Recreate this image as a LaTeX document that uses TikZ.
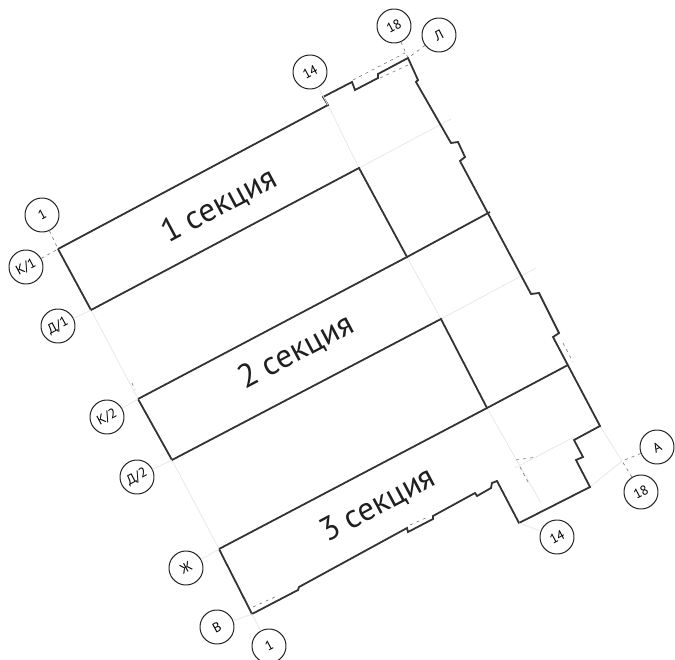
\documentclass[tikz,border=0pt]{standalone}
\usepackage{fontspec}
\setmainfont{PT Sans}
\usetikzlibrary{positioning}
\tikzset{
    % Wall and axis styles
    wall/.style={line width=1.8pt, draw=black!80, line join=miter},
    axisFaint/.style={line width=0.8pt, draw=black!9},
    axisTick/.style={line width=0.6pt, draw=black!55, dash pattern=on 3pt off 4pt},
    % Label styles
    axisMark/.style={circle, draw=black!85, line width=1pt, minimum size=34pt, inner sep=0pt, font=\fontsize{13.5}{13.5}\selectfont, rotate=28},
    sectionLabel/.style={font=\fontsize{33}{33}\selectfont, rotate=28, text=black!88, inner sep=0pt}
}
\begin{document}
\begin{tikzpicture}[x=1pt, y=-1pt]

    \useasboundingbox (0,0) rectangle (675,660);

    % --- Corners used by the axes ---
    \coordinate (cornerKa) at (58,249);
    \coordinate (cornerDa) at (91,310);
    \coordinate (cornerKb) at (138,399);
    \coordinate (cornerDb) at (172,460);
    \coordinate (cornerZh) at (219,549);
    \coordinate (cornerV) at (252,614);
    \coordinate (cornerL) at (408,58);
    \coordinate (cornerIn) at (359,168);
    \coordinate (cornerMid) at (407,257);
    \coordinate (cornerInb) at (441,319);
    \coordinate (cornerLow) at (487,408);
    \coordinate (cornerA) at (600,426);
    \coordinate (cornerEnd) at (622,461);
    \coordinate (cornerBase) at (519,523);

    % --- Faint axes ---
    \draw [axisFaint] (cornerDa) -- (cornerKb);
    \draw [axisFaint] (cornerDb) -- (cornerZh);
    \draw [axisFaint] (328,105) -- (cornerIn);
    \draw [axisFaint] (cornerMid) -- (cornerInb);
    \draw [axisFaint] (cornerLow) -- (541,503);
    \draw [axisFaint] (cornerIn) -- (451,119);
    \draw [axisFaint] (cornerInb) -- (536,268);
    \draw [axisFaint] (515,468) -- (574,437);
    \draw [axisFaint] (cornerA) -- (cornerEnd);
    \draw [axisFaint] (590,487) -- (cornerEnd);

    % --- Outline of the building ---
    \draw [wall] (cornerKa) -- (328,105) -- (323,97) -- (352,82) -- (355,90) -- (378,78)
        -- (378,74) -- (cornerL) -- (418,80) -- (416,82) -- (451,143) -- (458,142) -- (465,157)
        -- (460,161) -- (531,294) -- (539,293) -- (559,333) -- (553,337) -- (cornerA)
        -- (574,440) -- (583,457) -- (576,460) -- (590,487) -- (cornerBase) -- (497,481)
        -- (492,483) -- (491,488) -- (477,496) -- (475,493) -- (433,516) -- (433,519)
        -- (408,532) -- (407,528) -- (299,587) -- (298,590) -- (cornerV) -- (cornerZh);

    % --- Section walls ---
    \draw [wall] (cornerKa) -- (cornerDa) -- (cornerIn) -- (cornerMid);
    \draw [wall] (cornerKb) -- (cornerMid) -- (490,212);
    \draw [wall] (cornerKb) -- (cornerDb) -- (cornerInb) -- (cornerLow);
    \draw [wall] (cornerZh) -- (cornerLow) -- (568,365);

    % --- Section labels ---
    \node (section1) [sectionLabel] at (219,206) {1 секция};
    \node (section2) [sectionLabel] at (296,352) {2 секция};
    \node (section3) [sectionLabel] at (378,505) {3 секция};

    % --- Axis marks ---
    \node (mark18t) [axisMark] at (394,26) {18};
    \node (markL) [axisMark] at (439,35) {Л};
    \node (mark14t) [axisMark] at (310,72) {14};
    \node (mark1t) [axisMark] at (42,215) {1};
    \node (markKa) [axisMark] at (26,267) {К/1};
    \node (markDa) [axisMark] at (58,326) {Д/1};
    \node (markKb) [axisMark] at (107,417) {К/2};
    \node (markDb) [axisMark] at (137,477) {Д/2};
    \node (markZh) [axisMark] at (186,568) {Ж};
    \node (markV) [axisMark] at (217,627) {В};
    \node (mark1b) [axisMark] at (269,646) {1};
    \node (mark14b) [axisMark] at (557,537) {14};
    \node (mark18b) [axisMark] at (641,492) {18};
    \node (markA) [axisMark] at (657,447) {А};

    % --- Short ticks from the marks ---
    \draw [axisTick] (mark18t) -- (cornerL);
    \draw [axisTick] (markL) -- (cornerL);
    \draw [axisTick] (mark1t) -- (cornerKa);
    \draw [axisTick] (markKa) -- (cornerKa);
    \draw [axisTick] (markA) -- (cornerEnd);
    \draw [axisTick] (mark18b) -- (cornerEnd);
    \draw [axisFaint] (markDa) -- (cornerDa);
    \draw [axisFaint] (markDb) -- (cornerDb);
    \draw [axisFaint] (markKb) -- (cornerKb);
    \draw [axisFaint] (markZh) -- (cornerZh);
    \draw [axisFaint] (markV) -- (cornerV);
    \draw [axisFaint] (mark1b) -- (cornerV);
    \draw [axisFaint] (mark14b) -- (cornerBase);
    \draw [axisFaint] (mark14t) -- (328,105);

    % --- Broken axis pieces along the walls ---
    \draw [axisTick] (353,80) -- (405,53);
    \draw [axisTick] (380,78) -- (408,65);
    \draw [axisTick] (563,343) -- (573,362);
    \draw [axisTick] (516,460) -- (537,457);
    \draw [axisTick] (520,467) -- (528,482);
    \draw [axisTick] (410,525) -- (428,517);
    \draw [axisTick] (253,607) -- (277,596);
    \draw [axisTick] (132,383) -- (135,390);

\end{tikzpicture}
\end{document}
